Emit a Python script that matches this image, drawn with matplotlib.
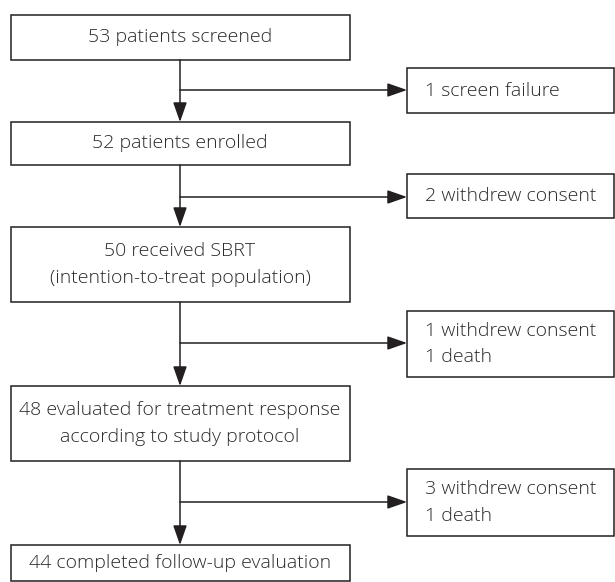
import matplotlib
matplotlib.use("Agg")
from matplotlib import pyplot as plt
from matplotlib.patches import Rectangle

plt.rcParams['font.family'] = ['Open Sans', 'DejaVu Sans']

# main flow boxes (text)
main_labels = ["53 patients screened",
               "52 patients enrolled",
               "50 received SBRT\n(intention-to-treat population)",
               "48 evaluated for treatment response\naccording to study protocol",
               "44 completed follow-up evaluation"]
# exclusion boxes (text)
side_labels = ["1 screen failure",
               "2 withdrew consent",
               "1 withdrew consent\n1 death",
               "3 withdrew consent\n1 death"]

# layout in pixels (top, bottom)
main_y = [(15, 60), (122, 165), (227, 302), (386, 461), (545, 581)]
side_y = [(68, 113), (174, 218), (311, 377), (469, 536)]
branch_y = [90, 197, 343, 502]
main_x = (11, 350)
side_x = (407, 614)
stem_x = 180

line_c = "#231f20"
text_c = "#2a2a2a"
fs = 14

fig = plt.figure(figsize=(6.15, 5.82), dpi=100)
ax = fig.add_axes([0, 0, 1, 1])
ax.set_xlim(0, 615)
ax.set_ylim(582, 0)
ax.axis("off")

def box(x0, x1, y0, y1):
    ax.add_patch(Rectangle((x0, y0), x1 - x0, y1 - y0, fill=False,
                           edgecolor=line_c, linewidth=1.1))

for lab, (y0, y1) in zip(main_labels, main_y):
    box(main_x[0], main_x[1], y0, y1)
    ax.text(stem_x, (y0 + y1) / 2, lab, ha="center", va="center",
            fontsize=fs, fontweight="light", color=text_c, linespacing=1.6)

for lab, (y0, y1) in zip(side_labels, side_y):
    box(side_x[0], side_x[1], y0, y1)
    ax.text(side_x[0] + 18, (y0 + y1) / 2, lab, ha="left", va="center",
            fontsize=fs, fontweight="light", color=text_c, linespacing=1.6)

arrow = dict(arrowstyle="-|>,head_length=1.2,head_width=0.42",
             mutation_scale=10, color=line_c, lw=1.1,
             shrinkA=0, shrinkB=0)

for i in range(len(side_labels)):
    top = main_y[i][1]
    nxt = main_y[i + 1][0]
    ax.annotate("", xy=(stem_x, nxt), xytext=(stem_x, top), arrowprops=arrow)
    ax.annotate("", xy=(side_x[0], branch_y[i]), xytext=(stem_x, branch_y[i]),
                arrowprops=arrow)

fig.savefig("out.png", dpi=100)
